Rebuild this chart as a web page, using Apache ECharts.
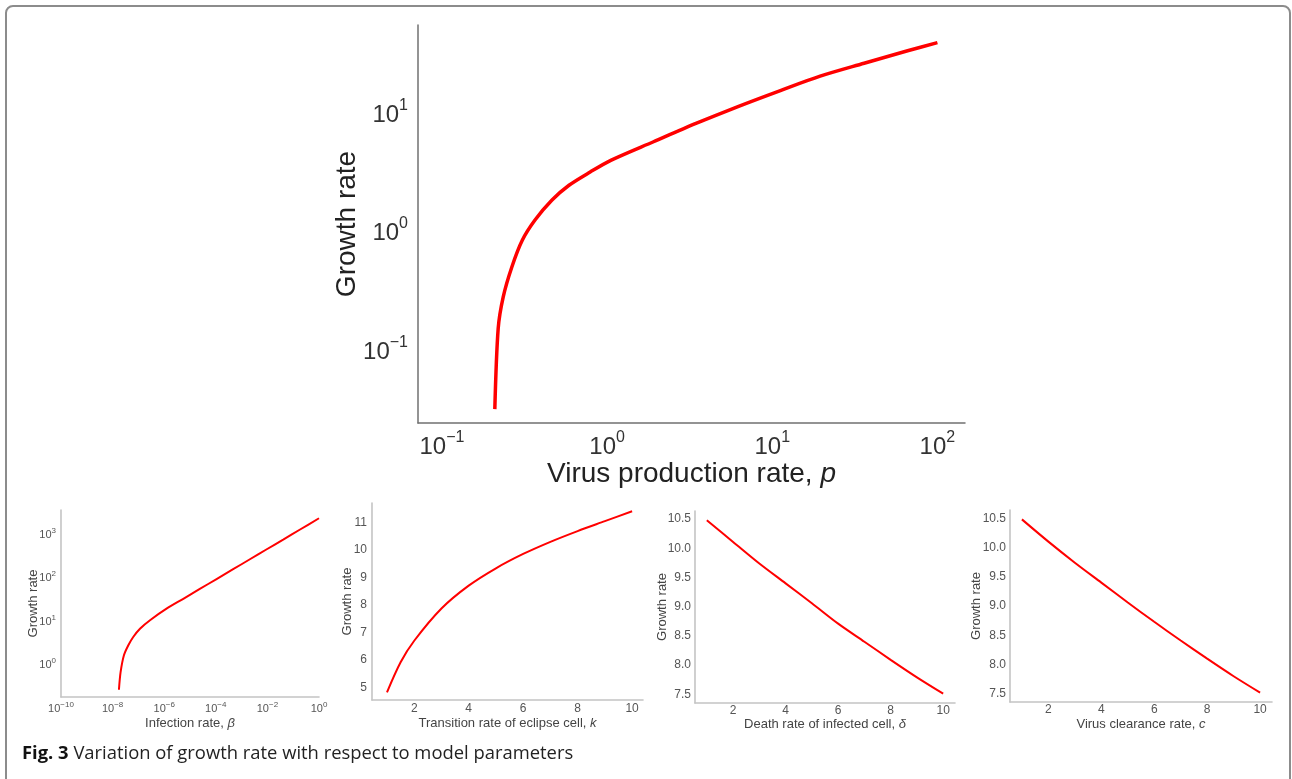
<!DOCTYPE html>
<html>
<head>
<meta charset="utf-8">
<script src="https://cdn.jsdelivr.net/npm/echarts@6/dist/echarts.min.js"></script>
<style>
html,body{margin:0;padding:0;background:#fff;}
#chart{width:1292px;height:779px;}
</style>
</head>
<body>
<div id="chart"></div>
<script>
// ---- data ----
const mainP = [0.209, 0.219, 0.235, 0.265, 0.307, 0.366, 0.464, 0.588, 0.79, 1.06, 1.91, 3.45, 6.2, 11.2, 19.5, 36.0, 66.0, 100];
const mainG = [0.030, 0.143, 0.265, 0.474, 0.80, 1.18, 1.74, 2.32, 3.0, 3.78, 5.4, 7.7, 10.7, 14.6, 19.3, 24.8, 31.6, 37.0];

const betaX = [1.76e-8, 2.04e-8, 2.75e-8, 4.07e-8, 6.3e-8, 1.15e-7, 2.82e-7, 1.23e-6, 5.5e-6, 2.4e-5, 1.07e-4, 4.7e-4, 2.1e-3, 9.1e-3, 0.041, 0.178, 1.0];
const betaG = [0.243, 0.617, 1.51, 2.57, 3.98, 6.17, 9.66, 17.8, 30.1, 50.6, 85.7, 144, 244, 409, 693, 1164, 2138];

const kX = [1, 1.5, 2, 3, 4, 5, 6, 7, 8, 9, 10];
const kG = [4.83, 5.92, 6.7, 7.87, 8.7, 9.33, 9.85, 10.29, 10.68, 11.04, 11.4];

const deltaX = [1, 2, 3, 4, 5, 6, 7, 8, 9, 10];
const deltaG = [10.48, 10.11, 9.74, 9.40, 9.06, 8.71, 8.40, 8.09, 7.79, 7.51];

const cX = [1, 2, 3, 4, 5, 6, 7, 8, 9, 10];
const cG = [10.48, 10.10, 9.74, 9.40, 9.06, 8.73, 8.41, 8.10, 7.80, 7.52];

// tick labels (exponents for log axes, values for linear axes)
const mainXExps = [-1, 0, 1, 2];
const mainYExps = [-1, 0, 1];
const betaXExps = [-10, -8, -6, -4, -2, 0];
const betaYExps = [0, 1, 2, 3];
const kXTicks = [2, 4, 6, 8, 10];
const kYTicks = [5, 6, 7, 8, 9, 10, 11];
const dXTicks = [2, 4, 6, 8, 10];
const dYTicks = ['7.5', '8.0', '8.5', '9.0', '9.5', '10.0', '10.5'];

const FONT = 'Liberation Sans, Arial, sans-serif';

function pairs(xs, ys) { return xs.map((x, i) => [x, ys[i]]); }

function powLabel(exps) {
  return function (v) {
    const l = Math.log10(v);
    const e = Math.round(l);
    if (Math.abs(l - e) > 1e-6 || exps.indexOf(e) < 0) return '';
    const s = e < 0 ? '\u2212' + (-e) : String(e);
    return '{b|10}{s|' + s + '}';
  };
}
function linLabel(list, digits) {
  return function (v) {
    for (const t of list) {
      if (Math.abs(Number(t) - v) < 1e-6) return digits ? Number(t).toFixed(digits) : String(t);
    }
    return '';
  };
}

const mainRich = {
  b: {fontSize: 24, fontFamily: FONT, color: '#333', padding: [10, 0, 0, 0], lineHeight: 25},
  s: {fontSize: 16, fontFamily: FONT, color: '#333', verticalAlign: 'top', lineHeight: 17}
};
const smallRich = {
  b: {fontSize: 11, fontFamily: FONT, color: '#555', padding: [4, 0, 0, 0], lineHeight: 12},
  s: {fontSize: 8, fontFamily: FONT, color: '#555', verticalAlign: 'top', lineHeight: 9}
};

const smallLine = {lineStyle: {color: '#c4c4c4', width: 1.6}};
const smallLabel = {fontSize: 12, fontFamily: FONT, color: '#555'};
const smallName = {fontSize: 13, fontFamily: FONT, color: '#444'};
const italic = {i: {fontSize: 13, fontFamily: FONT, fontStyle: 'italic', color: '#444'}};

function lineSeries(i, data, w) {
  return {
    type: 'line', xAxisIndex: i, yAxisIndex: i, data: data,
    showSymbol: false, smooth: 0.3,
    lineStyle: {color: '#ff0000', width: w}, silent: true, animation: false
  };
}

const chart = echarts.init(document.getElementById('chart'), null, {renderer: 'canvas'});
chart.setOption({
  animation: false,
  backgroundColor: '#fff',
  grid: [
    {left: 418, top: 25, width: 547, height: 398},
    {left: 61, top: 510, width: 258, height: 187},
    {left: 372, top: 503, width: 271, height: 197},
    {left: 695, top: 511, width: 260, height: 192},
    {left: 1010, top: 510, width: 262, height: 192}
  ],
  xAxis: [
    {gridIndex: 0, type: 'log', logBase: 10, min: Math.pow(10, -1.145), max: Math.pow(10, 2.167),
     axisLine: {lineStyle: {color: '#707070', width: 1.5}}, axisTick: {show: false}, splitLine: {show: false},
     axisLabel: {formatter: powLabel(mainXExps), rich: mainRich, margin: 7},
     name: 'Virus production rate, {i|p}', nameLocation: 'middle', nameGap: 37, nameMoveOverlap: false,
     nameTextStyle: {fontSize: 28, fontFamily: FONT, color: '#222', rich: {i: {fontSize: 28, fontFamily: FONT, fontStyle: 'italic', color: '#222'}}}},
    {gridIndex: 1, type: 'log', logBase: 100, min: 1e-10, max: 1,
     axisLine: smallLine, axisTick: {show: false}, splitLine: {show: false},
     axisLabel: {formatter: powLabel(betaXExps), rich: smallRich, margin: 4},
     name: 'Infection rate, {i|\u03b2}', nameLocation: 'middle', nameGap: 20, nameMoveOverlap: false,
     nameTextStyle: Object.assign({}, smallName, {rich: italic})},
    {gridIndex: 2, type: 'value', min: 0.45, max: 10.4,
     axisLine: smallLine, axisTick: {show: false}, splitLine: {show: false},
     axisLabel: Object.assign({formatter: linLabel(kXTicks, 0), margin: 3}, smallLabel),
     name: 'Transition rate of eclipse cell, {i|k}', nameLocation: 'middle', nameGap: 17, nameMoveOverlap: false,
     nameTextStyle: Object.assign({}, smallName, {rich: italic})},
    {gridIndex: 3, type: 'value', min: 0.55, max: 10.45,
     axisLine: smallLine, axisTick: {show: false}, splitLine: {show: false},
     axisLabel: Object.assign({formatter: linLabel(dXTicks, 0), margin: 2}, smallLabel),
     name: 'Death rate of infected cell, {i|\u03b4}', nameLocation: 'middle', nameGap: 15, nameMoveOverlap: false,
     nameTextStyle: Object.assign({}, smallName, {rich: italic})},
    {gridIndex: 4, type: 'value', min: 0.55, max: 10.45,
     axisLine: smallLine, axisTick: {show: false}, splitLine: {show: false},
     axisLabel: Object.assign({formatter: linLabel(dXTicks, 0), margin: 2}, smallLabel),
     name: 'Virus clearance rate, {i|c}', nameLocation: 'middle', nameGap: 16, nameMoveOverlap: false,
     nameTextStyle: Object.assign({}, smallName, {rich: italic})}
  ],
  yAxis: [
    {gridIndex: 0, type: 'log', logBase: 10, min: Math.pow(10, -1.64), max: Math.pow(10, 1.717),
     axisLine: {show: true, lineStyle: {color: '#707070', width: 1.5}}, axisTick: {show: false}, splitLine: {show: false},
     axisLabel: {formatter: powLabel(mainYExps), rich: mainRich, margin: 10},
     name: 'Growth rate', nameLocation: 'middle', nameGap: 57, nameMoveOverlap: false,
     nameTextStyle: {fontSize: 28, fontFamily: FONT, color: '#222'}},
    {gridIndex: 1, type: 'log', logBase: 10, min: Math.pow(10, -0.78), max: Math.pow(10, 3.52),
     axisLine: Object.assign({show: true}, smallLine), axisTick: {show: false}, splitLine: {show: false},
     axisLabel: {formatter: powLabel(betaYExps), rich: smallRich, margin: 5},
     name: 'Growth rate', nameLocation: 'middle', nameGap: 21.5, nameMoveOverlap: false, nameTextStyle: smallName},
    {gridIndex: 2, type: 'value', min: 4.55, max: 11.7,
     axisLine: Object.assign({show: true}, smallLine), axisTick: {show: false}, splitLine: {show: false},
     axisLabel: Object.assign({formatter: linLabel(kYTicks, 0), margin: 5}, smallLabel),
     name: 'Growth rate', nameLocation: 'middle', nameGap: 18.5, nameMoveOverlap: false, nameTextStyle: smallName},
    {gridIndex: 3, type: 'value', min: 7.35, max: 10.64,
     axisLine: Object.assign({show: true}, smallLine), axisTick: {show: false}, splitLine: {show: false},
     axisLabel: Object.assign({formatter: linLabel(dYTicks, 1), margin: 4}, smallLabel),
     name: 'Growth rate', nameLocation: 'middle', nameGap: 26.5, nameMoveOverlap: false, nameTextStyle: smallName},
    {gridIndex: 4, type: 'value', min: 7.36, max: 10.64,
     axisLine: Object.assign({show: true}, smallLine), axisTick: {show: false}, splitLine: {show: false},
     axisLabel: Object.assign({formatter: linLabel(dYTicks, 1), margin: 4}, smallLabel),
     name: 'Growth rate', nameLocation: 'middle', nameGap: 27.5, nameMoveOverlap: false, nameTextStyle: smallName}
  ],
  series: [
    lineSeries(0, pairs(mainP, mainG), 3.5),
    lineSeries(1, pairs(betaX, betaG), 2),
    lineSeries(2, pairs(kX, kG), 2),
    lineSeries(3, pairs(deltaX, deltaG), 2),
    lineSeries(4, pairs(cX, cG), 2)
  ],
  graphic: [
    {type: 'rect', silent: true, shape: {x: 6, y: 6, width: 1284, height: 820, r: 7},
     style: {fill: 'none', stroke: '#8c8c8c', lineWidth: 2}},
    {type: 'text', silent: true, left: 22, top: 745,
     style: {text: '{b|Fig. 3} Variation of growth rate with respect to model parameters',
             fontSize: 18.4, fontFamily: 'Open Sans, sans-serif', fill: '#222',
             rich: {b: {fontSize: 18.4, fontFamily: 'Open Sans, sans-serif', fontWeight: 'bold', fill: '#111'}}}}
  ]
});
</script>
</body>
</html>
